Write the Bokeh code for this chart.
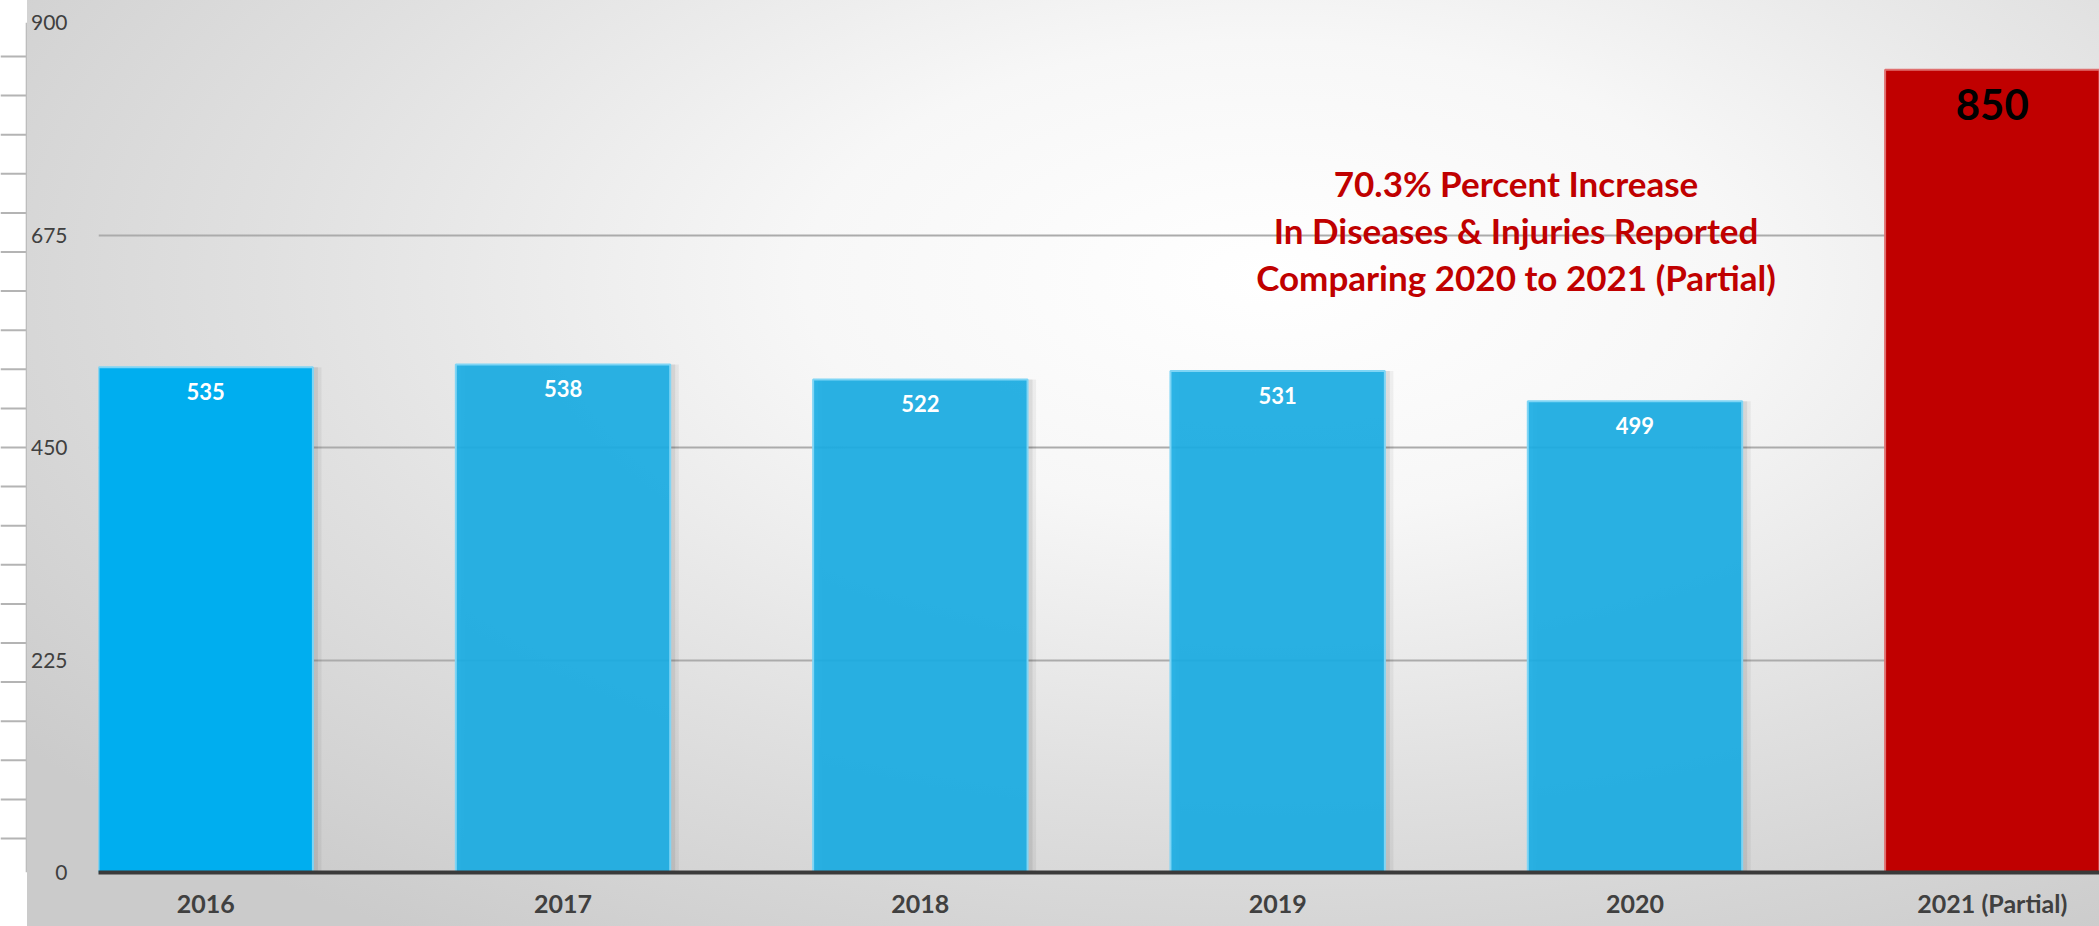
import numpy as np
from bokeh.plotting import figure
from bokeh.layouts import row
from bokeh.models import FixedTicker, ColumnDataSource
from bokeh.core.properties import value
from bokeh.embed import file_html
from bokeh.resources import INLINE

# ---- data ----
years = ["2016", "2017", "2018", "2019", "2020", "2021 (Partial)"]
cases = [535, 538, 522, 531, 499, 850]
bar_colors = ["#00AEEF", "#1AADE3", "#1AADE3", "#1AADE3", "#1AADE3", "#C00000"]
bar_borders = ["#7FD5F5", "#7FD5F5", "#7FD5F5", "#7FD5F5", "#7FD5F5", "#E07070"]
bar_alpha = [1.0, 0.92, 0.92, 0.92, 0.92, 1.0]
y_ticks = [0, 225, 450, 675, 900]
note_lines = ["70.3% Percent Increase",
              "In Diseases & Injuries Reported",
              "Comparing 2020 to 2021 (Partial)"]

FONT = "Lato"
TOTAL_W, TOTAL_H = 2099, 926
STRIP_W = 27

x = np.arange(len(years))
src = ColumnDataSource(dict(x=x, top=cases, color=bar_colors, border=bar_borders,
                            alpha=bar_alpha, xs=x + 0.014, xs2=x + 0.024))

# ---- left decorative strip ----
strip = figure(width=STRIP_W, height=TOTAL_H, x_range=(0, 1), y_range=(TOTAL_H, 0),
               output_backend="svg", toolbar_location=None,
               min_border=0, background_fill_color="white", border_fill_color="white",
               outline_line_color=None)
strip.axis.visible = False
strip.grid.visible = False
tick_y = np.arange(37, TOTAL_H, 42.6)
strip.segment(x0=0, x1=1, y0=tick_y, y1=tick_y, line_color="#B4B4B4", line_width=2)
strip.segment(x0=[0.97], x1=[0.97], y0=[0], y1=[TOTAL_H], line_color="#BDBDBD", line_width=2)

# ---- main chart ----
p = figure(width=TOTAL_W - STRIP_W, height=TOTAL_H, x_range=(-0.3, 5.3), y_range=(0, 900),
           output_backend="svg", toolbar_location=None,
           min_border_left=68, min_border_right=0, min_border_top=22, min_border_bottom=54,
           background_fill_color=None, border_fill_color=None, outline_line_color=None,
           styles={"background": "radial-gradient(ellipse 75% 85% at 60% 30%, #ffffff 0%, #f7f7f7 30%, #e0e0e0 65%, #cbcbcb 100%)"})

p.xgrid.visible = False
p.ygrid.ticker = FixedTicker(ticks=y_ticks)
p.ygrid.grid_line_color = "#ABABAB"
p.ygrid.grid_line_width = 2

p.yaxis.ticker = FixedTicker(ticks=y_ticks)
p.yaxis.axis_line_color = None
p.yaxis.major_tick_line_color = None
p.yaxis.minor_tick_line_color = None
p.yaxis.major_tick_out = 0
p.yaxis.minor_tick_out = 0
p.yaxis.major_label_standoff = 31
p.yaxis.major_label_text_font = FONT
p.yaxis.major_label_text_font_size = "21px"
p.yaxis.major_label_text_color = "#404040"

p.xaxis.ticker = FixedTicker(ticks=list(x))
p.xaxis.major_label_overrides = {int(i): y for i, y in zip(x, years)}
p.xaxis.axis_line_color = "#3A3A3A"
p.xaxis.axis_line_width = 4
p.xaxis.major_tick_line_color = None
p.xaxis.minor_tick_line_color = None
p.xaxis.major_tick_out = 0
p.xaxis.minor_tick_out = 0
p.xaxis.major_label_standoff = 15
p.xaxis.major_label_text_font = FONT
p.xaxis.major_label_text_font_size = "25px"
p.xaxis.major_label_text_font_style = "bold"
p.xaxis.major_label_text_color = "#404040"

# soft shadow
p.vbar(x="xs2", top="top", bottom=0, width=0.6, source=src, fill_color="black",
       fill_alpha=0.05, line_color=None)
p.vbar(x="xs", top="top", bottom=0, width=0.6, source=src, fill_color="black",
       fill_alpha=0.07, line_color=None)
# bars
p.vbar(x="x", top="top", bottom=0, width=0.6, source=src, fill_color="color",
       fill_alpha="alpha", line_color="border", line_width=2)

# value labels (blue bars)
blue = ColumnDataSource(dict(x=x[:-1], y=cases[:-1], t=[str(v) for v in cases[:-1]]))
p.text(x="x", y="y", text="t", source=blue, y_offset=24, text_align="center",
       text_baseline="middle", text_color="white", text_font=value(FONT),
       text_font_size="22px", text_font_style="bold")
red = ColumnDataSource(dict(x=x[-1:], y=cases[-1:], t=[str(v) for v in cases[-1:]]))
p.text(x="x", y="y", text="t", source=red, y_offset=35, text_align="center",
       text_baseline="middle", text_color="black", text_font=value(FONT),
       text_font_size="42px", text_font_style="bold")

# annotation
NOTE_X, NOTE_Y, NOTE_GAP = 3.667, 730, 47
p.text(x=[NOTE_X] * 3, y=[NOTE_Y] * 3, text=note_lines,
       y_offset=[i * NOTE_GAP for i in range(3)], text_align="center",
       text_baseline="middle", text_color="#C00000", text_font=value(FONT),
       text_font_size="35px", text_font_style="bold")

layout = row(strip, p, spacing=0)
open("out.html", "w").write(file_html(layout, INLINE))
